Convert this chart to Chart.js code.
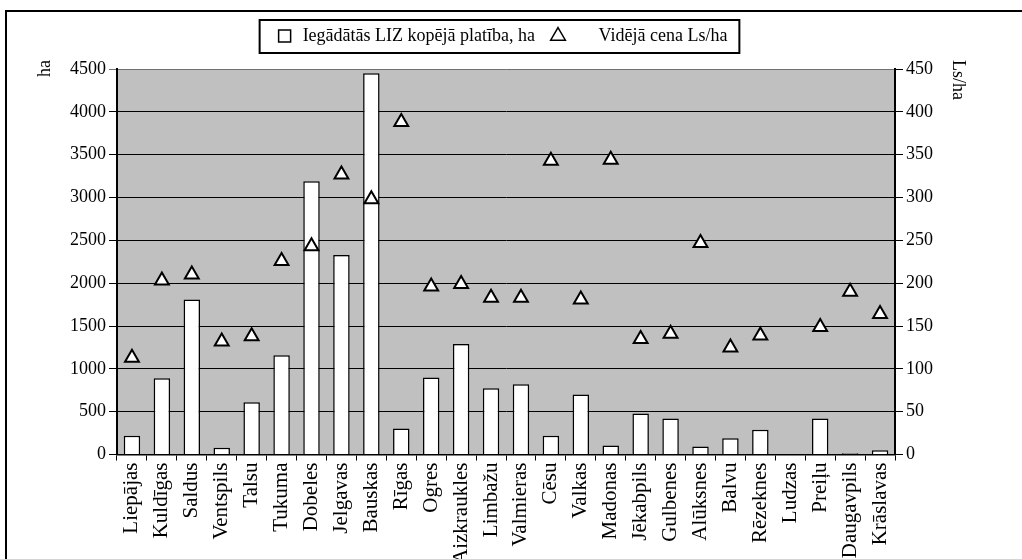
<!DOCTYPE html>
<html>
<head>
<meta charset="utf-8">
<script src="https://cdn.jsdelivr.net/npm/chart.js@4/dist/chart.umd.min.js"></script>
<style>
  html, body { margin: 0; padding: 0; background: #fff; overflow: hidden; height: 559px; }
  #wrap { width: 1022px; height: 566px; position: relative; }
</style>
</head>
<body>
<div id="wrap"><canvas id="landChart"></canvas></div>
<script>
const districts = ['Liepājas', 'Kuldīgas', 'Saldus', 'Ventspils', 'Talsu', 'Tukuma', 'Dobeles', 'Jelgavas',
    'Bauskas', 'Rīgas', 'Ogres', 'Aizkraukles', 'Limbažu', 'Valmieras', 'Cēsu', 'Valkas', 'Madonas',
    'Jēkabpils', 'Gulbenes', 'Alūksnes', 'Balvu', 'Rēzeknes', 'Ludzas', 'Preiļu', 'Daugavpils', 'Krāslavas'];

// purchased agricultural land, ha
const areaHa = [220, 890, 1810, 80, 610, 1160, 3190, 2330, 4450, 305, 900, 1290, 775, 820, 220, 700, 105,
    480, 420, 95, 190, 290, null, 420, 15, 50];

// average price, Ls/ha
const priceLsHa = [113, 203, 210, 132, 138, 226, 243, 327, 298, 388, 196, 199, 183, 183, 343, 181, 344,
    135, 141, 247, 125, 139, null, 149, 190, 164];

const leftTicks = [0, 4500, 500];
const rightTicks = [0, 450, 50];

const serif = 'Liberation Serif';

// grey plot background + outer frame + legend border + axis titles
const decorPlugin = {
    id: 'decor',
    beforeInit(chart) {
        // extra room between legend and plot
        const origFit = chart.legend.fit;
        chart.legend.fit = function () {
            origFit.bind(chart.legend)();
            this.height += 14;
        };
    },
    beforeDraw(chart) {
        const { ctx, chartArea } = chart;
        ctx.save();
        ctx.fillStyle = '#c0c0c0';
        ctx.fillRect(chartArea.left, chartArea.top, chartArea.right - chartArea.left, chartArea.bottom - chartArea.top);
        ctx.restore();
    },
    afterDraw(chart) {
        const { ctx, chartArea } = chart;
        ctx.save();
        // outer frame
        ctx.strokeStyle = '#000';
        ctx.lineWidth = 2;
        ctx.beginPath();
        ctx.moveTo(6, 600);
        ctx.lineTo(6, 11);
        ctx.lineTo(1030, 11);
        ctx.stroke();

        // legend box
        const boxes = chart.legend.legendHitBoxes;
        if (boxes && boxes.length) {
            const l = Math.min(...boxes.map(b => b.left));
            const r = Math.max(...boxes.map(b => b.left + b.width));
            const t = Math.min(...boxes.map(b => b.top));
            const btm = Math.max(...boxes.map(b => b.top + b.height));
            ctx.lineWidth = 2;
            ctx.strokeRect(l - 16, t - 7, r - l + 28, btm - t + 15);
        }

        // axis titles
        ctx.fillStyle = '#000';
        ctx.font = '18px "' + serif + '"';
        ctx.textBaseline = 'middle';
        ctx.translate(45, chartArea.top - 9);
        ctx.rotate(-Math.PI / 2);
        ctx.textAlign = 'right';
        ctx.fillText('ha', 0, 0);
        ctx.restore();

        ctx.save();
        ctx.fillStyle = '#000';
        ctx.font = '18px "' + serif + '"';
        ctx.textBaseline = 'middle';
        ctx.translate(958, chartArea.top - 9);
        ctx.rotate(Math.PI / 2);
        ctx.textAlign = 'left';
        ctx.fillText('Ls/ha', 0, 0);
        ctx.restore();
    }
};

const ctx = document.getElementById('landChart').getContext('2d');
new Chart(ctx, {
    data: {
        labels: districts,
        datasets: [
            {
                type: 'bar',
                label: 'Iegādātās LIZ kopējā platība, ha',
                data: areaHa,
                yAxisID: 'y',
                backgroundColor: '#ffffff',
                borderColor: '#000000',
                borderWidth: 1.5,
                borderSkipped: 'bottom',
                barPercentage: 0.55,
                categoryPercentage: 1,
                pointStyle: 'rect',
                order: 2
            },
            {
                type: 'line',
                label: 'Vidējā cena Ls/ha',
                data: priceLsHa,
                yAxisID: 'y1',
                showLine: false,
                pointStyle: 'triangle',
                pointRadius: 8,
                pointBorderWidth: 2,
                pointBackgroundColor: '#ffffff',
                pointBorderColor: '#000000',
                backgroundColor: '#ffffff',
                borderColor: '#000000',
                borderWidth: 1.5,
                order: 1
            }
        ]
    },
    options: {
        responsive: true,
        maintainAspectRatio: false,
        animation: false,
        layout: { padding: { left: 67, right: 86, top: 13, bottom: 0 } },
        plugins: {
            tooltip: { enabled: false },
            legend: {
                position: 'top',
                labels: {
                    usePointStyle: true,
                    boxHeight: 12,
                    color: '#000',
                    padding: 14,
                    font: { family: serif, size: 18 },
                    sort: (a, b) => a.datasetIndex - b.datasetIndex,
                    generateLabels(chart) {
                        const items = Chart.defaults.plugins.legend.labels.generateLabels(chart);
                        items.forEach(it => {
                            it.lineWidth = 1.5;
                            if (it.datasetIndex === 1) it.text = '\u2003 ' + it.text;
                        });
                        return items;
                    }
                }
            }
        },
        scales: {
            x: {
                offset: true,
                grid: { offset: true, drawOnChartArea: false, color: '#000', tickLength: 6 },
                border: { color: '#000', width: 1.5 },
                ticks: {
                    color: '#000',
                    minRotation: 90,
                    maxRotation: 90,
                    autoSkip: false,
                    padding: 2,
                    font: { family: serif, size: 21 }
                }
            },
            y: {
                position: 'left',
                min: leftTicks[0],
                max: leftTicks[1],
                grid: {
                    color: c => (c.tick && c.tick.value === leftTicks[1]) ? '#707070' : '#000',
                    lineWidth: 1,
                    tickLength: 8
                },
                border: { color: '#000', width: 2 },
                ticks: {
                    stepSize: leftTicks[2],
                    color: '#000',
                    padding: 3,
                    font: { family: serif, size: 18 },
                    callback: v => String(v)
                }
            },
            y1: {
                position: 'right',
                min: rightTicks[0],
                max: rightTicks[1],
                grid: { drawOnChartArea: false, color: '#000', tickLength: 8 },
                border: { color: '#000', width: 2 },
                ticks: {
                    stepSize: rightTicks[2],
                    color: '#000',
                    padding: 3,
                    font: { family: serif, size: 18 },
                    callback: v => String(v)
                }
            }
        }
    },
    plugins: [decorPlugin]
});
</script>
</body>
</html>
